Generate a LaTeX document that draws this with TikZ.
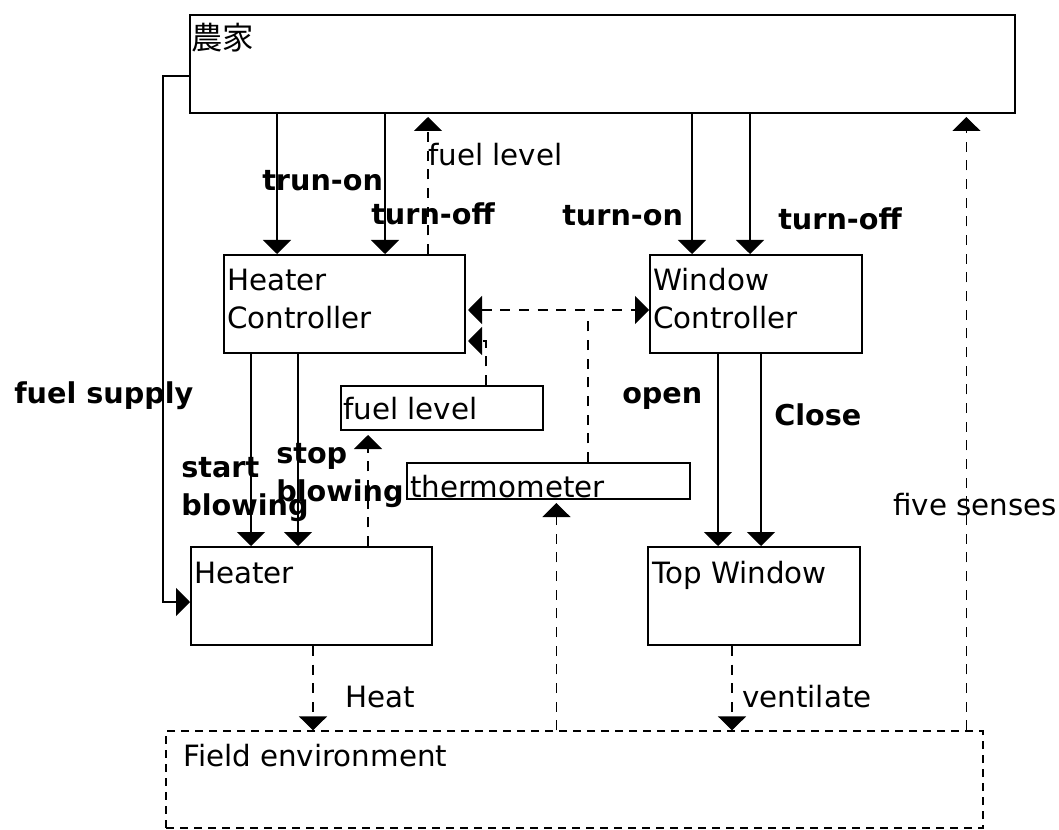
\documentclass[tikz,border=0pt]{standalone}
\usepackage{fontspec}
\setmainfont{DejaVu Sans}
\newfontfamily\jpfont{Noto Sans CJK JP}
\usetikzlibrary{arrows.meta,fit,calc}
\begin{document}
\begin{tikzpicture}[x=0.75pt,y=-0.75pt,
  box/.style={draw, line width=1.5pt, inner sep=0pt},
  dbox/.style={draw, line width=0.9pt, dash pattern=on 6pt off 4.5pt, inner sep=0pt},
  txt/.style={anchor=base west, inner sep=0pt, font=\fontsize{22}{28}\selectfont},
  btxt/.style={anchor=base west, inner sep=0pt, font=\fontsize{21.5}{28}\selectfont\bfseries},
  dsh/.style={line width=0.9pt, dash pattern=on 7.5pt off 6.5pt},
  tip/.style={-{Triangle[width=21pt,length=10.5pt]}},
  sarr/.style={line width=1pt, tip},
  darr/.style={dsh, tip},
  ddarr/.style={dsh, {Triangle[width=21pt,length=10.5pt]}-{Triangle[width=21pt,length=10.5pt]}}
]
\useasboundingbox (0,0) rectangle (1059,830);

% boxes
\node[box, fit={(190,15) (1015,113)}] (farmer) {};
\node[box, fit={(224,255) (465,353)}] (hc) {};
\node[box, fit={(650,255) (862,353)}] (wc) {};
\node[box, fit={(341,386) (543,430)}] (fl) {};
\node[box, fit={(407,463) (690,499)}] (th) {};
\node[box, fit={(191,547) (432,645)}] (heater) {};
\node[box, fit={(648,547) (860,645)}] (tw) {};
\node[dbox, fit={(166,731) (983,828)}] (fe) {};

% box texts
\node[anchor=base west, inner sep=0pt, font=\jpfont\fontsize{23.5}{28}\selectfont] (farmertxt) at (191,50) {農家};
\node[txt] (hc1) at (227,291) {Heater};
\node[txt] (hc2) at (227,329) {Controller};
\node[txt] (wc1) at (653,291) {Window};
\node[txt] (wc2) at (653,329) {Controller};
\node[txt] (fltxt) at (343,419) {fuel level};
\node[txt] (thtxt) at (410,497) {thermometer};
\node[txt] (heatertxt) at (194,583) {Heater};
\node[txt] (twtxt) at (652,583) {Top Window};
\node[txt] (fetxt) at (183,766) {Field environment};

% connectors from farmer
\draw[sarr] ($(farmer.south west)+(88,0)$) coordinate (a1) -- (a1 |- hc.north);
\draw[sarr] ($(farmer.south west)+(196,0)$) coordinate (a2) -- (a2 |- hc.north);
\draw[darr] ($(hc.north west)+(205,0)$) coordinate (a3) -- ($(a3 |- farmer.south)+(0,3)$);
\draw[sarr] ($(farmer.south west)+(503,0)$) coordinate (a4) -- (a4 |- wc.north);
\draw[sarr] ($(farmer.south west)+(561,0)$) coordinate (a5) -- (a5 |- wc.north);
\draw[darr] ($(fe.north west)+(801,0)$) coordinate (a6) -- ($(a6 |- farmer.south)+(0,3)$);
\draw[sarr] ($(farmer.south west)+(0,-38)$) coordinate (a7) -- ++(-26,0) |- ($(heater.west)+(0,6)$);

% heater controller
\draw[sarr] ($(hc.south west)+(28,0)$) coordinate (b1) -- (b1 |- heater.north);
\draw[sarr] ($(hc.south west)+(75,0)$) coordinate (b2) -- (b2 |- heater.north);
\draw[darr] ($(heater.north west)+(178,0)$) coordinate (b3) -- ($(b3 |- fl.south)+(0,4)$);
\draw[darr] ($(fl.north west)+(146,0)$) coordinate (b4) |- ($(hc.south east)+(2,-13)$);
\draw[ddarr] ($(hc.north east)+(2,56)$) coordinate (h1) -- (h1 -| wc.west);
\draw[dsh] ($(th.north west)+(182,0)$) coordinate (b5) -- ($(b5 |- h1)+(0,9)$);

% window controller
\draw[sarr] ($(wc.south west)+(69,0)$) coordinate (c1) -- (c1 |- tw.north);
\draw[sarr] ($(wc.south west)+(112,0)$) coordinate (c2) -- (c2 |- tw.north);

% to field environment
\draw[darr] ($(heater.south west)+(123,0)$) coordinate (d1) -- (d1 |- fe.north);
\draw[darr] ($(tw.south west)+(85,0)$) coordinate (d2) -- (d2 |- fe.north);
\draw[darr] ($(fe.north west)+(391,0)$) coordinate (d3) -- ($(d3 |- th.south)+(0,3)$);

% labels
\node[btxt] (l1) at (262,191) {trun-on};
\node[btxt] (l2) at (371,225) {turn-off};
\node[txt] (l3) at (428,166) {fuel level};
\node[btxt] (l4) at (562,226) {turn-on};
\node[btxt] (l5) at (778,230) {turn-off};
\node[btxt] (l6) at (14,403) {fuel supply};
\node[btxt] (l7a) at (181,477) {start};
\node[btxt] (l7b) at (181,515) {blowing};
\node[btxt] (l8a) at (276,463) {stop};
\node[btxt] (l8b) at (276,501) {blowing};
\node[btxt] (l9) at (622,403) {open};
\node[btxt] (l10) at (774,425) {Close};
\node[txt] (l11) at (345,707) {Heat};
\node[txt] (l12) at (742,707) {ventilate};
\node[txt] (l13) at (893,515) {five senses};
\end{tikzpicture}
\end{document}
